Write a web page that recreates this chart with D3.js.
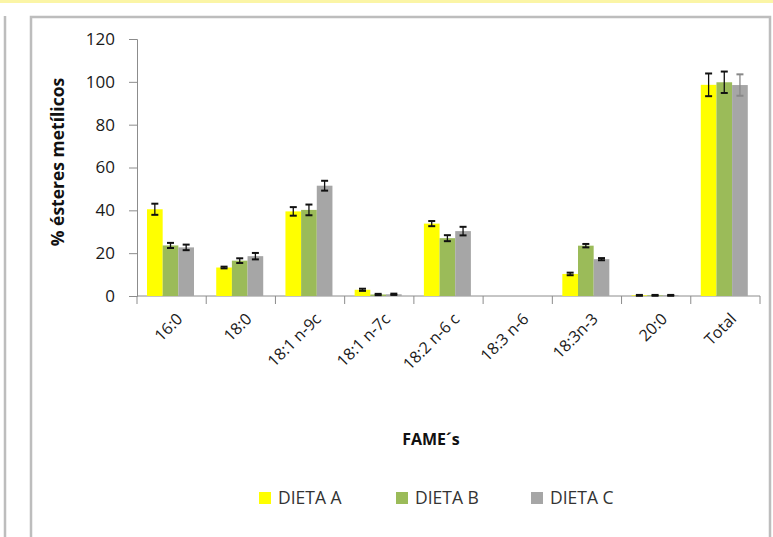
<!DOCTYPE html>
<html>
<head>
<meta charset="utf-8">
<script src="https://cdn.jsdelivr.net/npm/d3@7"></script>
<style>
  body { margin: 0; background: #fff; }
  svg { display: block; font-family: "Open Sans", sans-serif; }
</style>
</head>
<body>
<div id="chart"></div>
<script>
// Fatty acid methyl esters by diet
const categories = ['16:0', '18:0', '18:1 n-9c', '18:1 n-7c', '18:2 n-6 c', '18:3 n-6', '18:3n-3', '20:0', 'Total'];
const seriesNames = ['DIETA A', 'DIETA B', 'DIETA C'];
const dietaA = [40.5, 13.3, 39.5, 2.9, 33.8, 0, 10.3, 0.3, 98.6];
const dietaB = [23.6, 16.5, 40.2, 0.7, 27.0, 0, 23.5, 0.3, 99.8];
const dietaC = [22.7, 18.6, 51.5, 0.8, 30.3, 0, 17.2, 0.3, 98.5];
const errA = [2.6, 0.4, 2.0, 0.5, 1.2, 0, 0.6, 0.2, 5.3];
const errB = [1.2, 1.1, 2.5, 0.3, 1.4, 0, 0.8, 0.2, 5.0];
const errC = [1.3, 1.5, 2.3, 0.3, 2.0, 0, 0.5, 0.2, 5.0];
const yTicks = [0, 20, 40, 60, 80, 100, 120];

const colors = ['#ffff00', '#9bbb59', '#a6a6a6'];
const values = [dietaA, dietaB, dietaC];
const errors = [errA, errB, errC];

const width = 773;
const height = 537;

const svg = d3.select('#chart').append('svg')
  .attr('width', width)
  .attr('height', height);

// Page decoration: yellow strip and frame lines
svg.append('rect').attr('x', 0).attr('y', 0).attr('width', width).attr('height', 3).attr('fill', '#fbf5a6');
svg.append('line').attr('x1', 5).attr('x2', 5).attr('y1', 16).attr('y2', height)
  .attr('stroke', '#bdbdbd').attr('stroke-width', 2.5);
svg.append('path').attr('d', `M31,${height} V17 H770 V${height}`)
  .attr('fill', 'none').attr('stroke', '#bdbdbd').attr('stroke-width', 2.5);

const plot = { left: 137, right: 760, top: 39, bottom: 296 };

const x = d3.scaleBand()
  .domain(categories)
  .range([plot.left, plot.right]);

const x1 = d3.scaleBand()
  .domain(seriesNames)
  .range([10, 57]);

const y = d3.scaleLinear()
  .domain([0, 120])
  .range([plot.bottom, plot.top]);

// Y axis
const yAxis = svg.append('g')
  .attr('transform', `translate(${plot.left},0)`)
  .call(d3.axisLeft(y).tickValues(yTicks).tickSize(8).tickPadding(14));
yAxis.select('.domain').attr('stroke', '#8c8c8c');
yAxis.selectAll('.tick line').attr('stroke', '#8c8c8c');
yAxis.selectAll('.tick text')
  .attr('font-size', 17)
  .attr('fill', '#1a1a1a')
  .attr('font-family', '"Open Sans", sans-serif');

// X axis with ticks between categories
const xAxisG = svg.append('g');
xAxisG.append('line')
  .attr('x1', plot.left).attr('x2', plot.right)
  .attr('y1', plot.bottom).attr('y2', plot.bottom)
  .attr('stroke', '#8c8c8c');
const boundaries = categories.map((c) => x(c)).concat([x(categories[categories.length - 1]) + x.bandwidth()]);
xAxisG.selectAll('.xtick')
  .data(boundaries)
  .join('line')
  .attr('x1', (d) => d).attr('x2', (d) => d)
  .attr('y1', plot.bottom).attr('y2', plot.bottom + 8)
  .attr('stroke', '#8c8c8c');

xAxisG.selectAll('.xlabel')
  .data(categories)
  .join('text')
  .attr('text-anchor', 'end')
  .attr('font-size', 16)
  .attr('fill', '#1a1a1a')
  .attr('transform', (d) => `translate(${x(d) + x.bandwidth() / 2 + 8},${plot.bottom + 20}) rotate(-45)`)
  .attr('dy', '0.35em')
  .text((d) => d);

// Bars
const groups = svg.selectAll('.group')
  .data(categories)
  .join('g')
  .attr('transform', (d) => `translate(${x(d)},0)`);

seriesNames.forEach((s, si) => {
  groups.append('rect')
    .attr('x', x1(s))
    .attr('width', x1.bandwidth())
    .attr('y', (d, i) => y(values[si][i]))
    .attr('height', (d, i) => y(0) - y(values[si][i]))
    .attr('fill', colors[si]);
});

// Error bars
seriesNames.forEach((s, si) => {
  const cx = x1(s) + x1.bandwidth() / 2;
  groups.each(function (d, i) {
    const v = values[si][i];
    const e = errors[si][i];
    if (v === 0 && e === 0) return;
    const g = d3.select(this);
    const col = (si === 2 && i === categories.length - 1) ? '#888' : '#111';
    g.append('line')
      .attr('x1', cx).attr('x2', cx)
      .attr('y1', y(v - e)).attr('y2', y(v + e))
      .attr('stroke', col).attr('stroke-width', 1.3);
    [v - e, v + e].forEach((t) => {
      g.append('line')
        .attr('x1', cx - 3.5).attr('x2', cx + 3.5)
        .attr('y1', y(t)).attr('y2', y(t))
        .attr('stroke', col).attr('stroke-width', 2);
    });
  });
});

// Axis titles
svg.append('text')
  .attr('transform', 'translate(64,162) rotate(-90)')
  .attr('text-anchor', 'middle')
  .attr('font-size', 17.5)
  .attr('font-weight', 'bold')
  .attr('fill', '#111')
  .text('% ésteres metílicos');

svg.append('text')
  .attr('x', 431)
  .attr('y', 445)
  .attr('text-anchor', 'middle')
  .attr('font-size', 16)
  .attr('font-weight', 'bold')
  .attr('fill', '#111')
  .text('FAME´s');

// Legend
const legendX = [259, 396, 531];
const legend = svg.selectAll('.legend')
  .data(seriesNames)
  .join('g')
  .attr('transform', (d, i) => `translate(${legendX[i]},498)`);
legend.append('rect')
  .attr('x', 0).attr('y', -6)
  .attr('width', 12).attr('height', 12)
  .attr('fill', (d, i) => colors[i]);
legend.append('text')
  .attr('x', 19)
  .attr('dy', '0.36em')
  .attr('font-size', 17.5)
  .attr('fill', '#333')
  .text((d) => d);
</script>
</body>
</html>
